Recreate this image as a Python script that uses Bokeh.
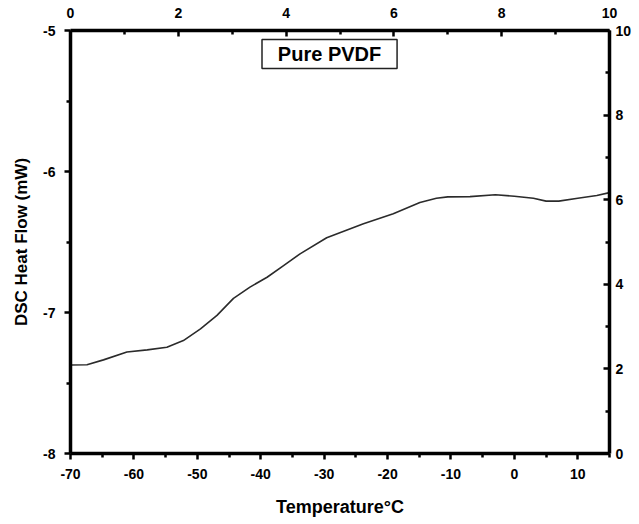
from bokeh.plotting import figure
from bokeh.models import (Range1d, LinearAxis, FixedTicker, Label, BoxAnnotation,
                          PrintfTickFormatter)
from bokeh.embed import file_html
from bokeh.resources import INLINE

# Data
temperature = [-70, -67.4, -64.8, -61.1, -57.9, -54.8, -52.2, -49.5, -46.9, -44.3,
               -41.7, -39.0, -36.4, -33.8, -29.6, -23.8, -19.1, -14.9, -12.3,
               -10.5, -7, -3, 0, 3, 5, 7, 10, 13, 15]
heat_flow = [-7.372, -7.371, -7.336, -7.28, -7.265, -7.246, -7.199, -7.116, -7.02,
             -6.90, -6.82, -6.75, -6.667, -6.584, -6.47, -6.37, -6.30, -6.22,
             -6.19, -6.18, -6.178, -6.165, -6.175, -6.19, -6.21, -6.21, -6.19,
             -6.17, -6.15]

bottom_ticks = [-70, -60, -50, -40, -30, -20, -10, 0, 10]
bottom_minor = [-65, -55, -45, -35, -25, -15, -5, 5, 15]
left_ticks = [-8, -7, -6, -5]
left_minor = [-7.5, -6.5, -5.5]
top_ticks = [0, 2, 4, 6, 8, 10]
top_minor = [1, 3, 5, 7, 9]
right_ticks = [0, 2, 4, 6, 8, 10]
right_minor = [1, 3, 5, 7, 9]
legend_text = "Pure PVDF"

FONT = "Liberation Sans"

p = figure(frame_width=539, frame_height=423, output_backend="svg",
           toolbar_location=None, x_range=Range1d(-70, 15), y_range=Range1d(-8, -5),
           x_axis_location=None, y_axis_location=None)
p.min_border_left = 70
p.min_border_right = 30
p.min_border_top = 30
p.min_border_bottom = 71
p.outline_line_color = None
p.xgrid.visible = False
p.ygrid.visible = False
p.background_fill_color = "white"
p.border_fill_color = "white"

p.extra_x_ranges = {"top": Range1d(0, 10)}
p.extra_y_ranges = {"right": Range1d(0, 10)}


def style(ax, inward):
    ax.axis_line_width = 3.5
    ax.axis_line_color = "black"
    ax.major_tick_line_width = 2.5
    ax.minor_tick_line_width = 2.5
    ax.major_tick_line_color = "black"
    ax.minor_tick_line_color = "black"
    if inward:
        ax.major_tick_in = 6
        ax.major_tick_out = 0
        ax.minor_tick_in = 4
        ax.minor_tick_out = 0
    else:
        ax.major_tick_in = 0
        ax.major_tick_out = 6
        ax.minor_tick_in = 0
        ax.minor_tick_out = 4
    ax.formatter = PrintfTickFormatter(format="%d")
    ax.major_label_text_font = FONT
    ax.major_label_text_font_style = "bold"
    ax.major_label_text_font_size = "14px"
    ax.major_label_text_color = "black"
    ax.axis_label_text_font = FONT
    ax.axis_label_text_font_style = "bold"
    ax.axis_label_text_font_size = "17px"
    ax.axis_label_text_color = "black"


bx = LinearAxis(ticker=FixedTicker(ticks=bottom_ticks, minor_ticks=bottom_minor),
                axis_label="Temperature°C")
style(bx, False)
bx.axis_label_text_font_size = "18px"
bx.major_label_standoff = 9
bx.axis_label_standoff = 15
p.add_layout(bx, "below")

ly = LinearAxis(ticker=FixedTicker(ticks=left_ticks, minor_ticks=left_minor),
                axis_label="DSC Heat Flow (mW)")
style(ly, False)
ly.major_label_standoff = 9
ly.axis_label_standoff = 9
p.add_layout(ly, "left")

tx = LinearAxis(x_range_name="top",
                ticker=FixedTicker(ticks=top_ticks, minor_ticks=top_minor))
style(tx, True)
tx.major_label_standoff = 13
p.add_layout(tx, "above")

ry = LinearAxis(y_range_name="right",
                ticker=FixedTicker(ticks=right_ticks, minor_ticks=right_minor))
style(ry, True)
ry.major_label_standoff = 6
p.add_layout(ry, "right")

p.line(temperature, heat_flow, line_color="#2b2b2b", line_width=1.6,
       line_join="round")

box = BoxAnnotation(left=-39.8, right=-18.5, top=-5.064, bottom=-5.27,
                    fill_color="white", fill_alpha=1.0,
                    line_color="#222222", line_alpha=1.0, line_width=1.5)
p.add_layout(box)
lab = Label(x=-29.15, y=-5.167, text=legend_text, text_align="center",
            text_baseline="middle", text_font=FONT, text_font_style="bold",
            text_font_size="20px", text_color="black")
p.add_layout(lab)

open("out.html", "w").write(file_html(p, INLINE))
